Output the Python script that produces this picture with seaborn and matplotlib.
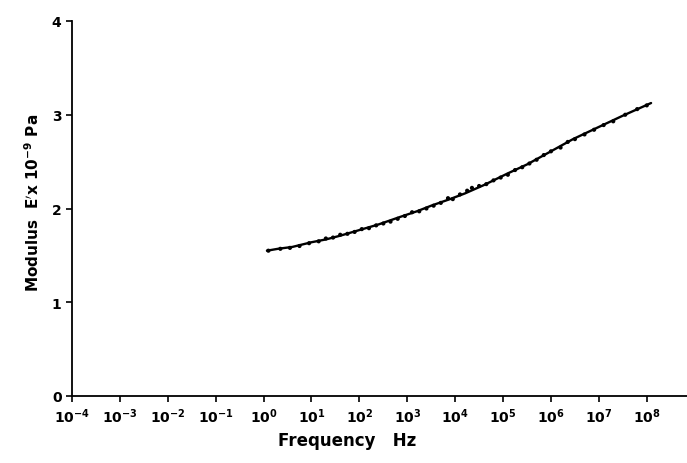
import numpy as np
import matplotlib
matplotlib.use("Agg")
import matplotlib.pyplot as plt
import seaborn as sns

# measured points (log10 of frequency in Hz, modulus in GPa)
point_logf = [0.1, 0.35, 0.55, 0.75, 0.95, 1.15, 1.3, 1.45, 1.6, 1.75, 1.9, 2.05, 2.2,
              2.35, 2.5, 2.65, 2.8, 2.95, 3.1, 3.25, 3.4, 3.55, 3.7, 3.85, 3.95, 4.1,
              4.25, 4.35, 4.5, 4.65, 4.8, 4.95, 5.1, 5.25, 5.4, 5.55, 5.7, 5.85, 6.0,
              6.2, 6.35, 6.5, 6.7, 6.9, 7.1, 7.3, 7.55, 7.8, 8.0]
point_mod = [1.55, 1.57, 1.58, 1.60, 1.63, 1.65, 1.68, 1.69, 1.72, 1.73, 1.75, 1.78, 1.79,
             1.82, 1.84, 1.86, 1.89, 1.92, 1.96, 1.97, 2.00, 2.03, 2.06, 2.11, 2.10, 2.15,
             2.19, 2.22, 2.24, 2.26, 2.30, 2.33, 2.36, 2.41, 2.44, 2.48, 2.52, 2.57, 2.61,
             2.65, 2.71, 2.74, 2.79, 2.84, 2.89, 2.93, 3.00, 3.06, 3.10]

# fitted curve
curve_logf = [0.07, 0.3, 0.6, 1.0, 1.3, 1.6, 2.0, 2.4, 2.85, 3.2, 3.5, 3.89, 4.2, 4.6,
              5.08, 5.5, 6.0, 6.46, 7.0, 7.5, 8.09]
curve_mod = [1.55, 1.57, 1.59, 1.64, 1.67, 1.71, 1.77, 1.83, 1.91, 1.97, 2.03, 2.10,
             2.16, 2.25, 2.37, 2.47, 2.61, 2.74, 2.87, 2.99, 3.125]

decades = list(range(-4, 9))

sns.set_style("ticks", {'axes.edgecolor': 'black', 'xtick.color': 'black',
                        'ytick.color': 'black', 'text.color': 'black'})
plt.rcParams['font.family'] = ['DejaVu Sans']
plt.rcParams['mathtext.fontset'] = 'dejavusans'

fig = plt.figure(figsize=(6.87, 4.64), dpi=100)
ax = fig.add_axes([72 / 687, 1 - 397 / 464, 1 - 72 / 687, (397 - 22) / 464])

sns.lineplot(x=10 ** np.array(curve_logf), y=curve_mod, color='black', linewidth=1.7, ax=ax)
sns.scatterplot(x=10 ** np.array(point_logf), y=point_mod, color='black', s=9,
                edgecolor='none', ax=ax)

ax.set_xscale('log')
ax.set_xlim(1e-4, 10 ** 8.84)
ax.set_ylim(0, 4)
ax.set_xticks([10.0 ** d for d in decades])
ax.set_xticklabels([r'$\mathbf{10^{%d}}$' % d for d in decades])
ax.minorticks_off()
ax.set_yticks([0, 1, 2, 3, 4])
ax.tick_params(axis='both', direction='out', length=4.5, width=1.2, labelsize=10, pad=3,
               labelcolor='black')
for lab in ax.get_xticklabels() + ax.get_yticklabels():
    lab.set_fontweight('bold')
sns.despine(ax=ax)
ax.spines['left'].set_linewidth(1.3)
ax.spines['bottom'].set_linewidth(1.3)

fig.text(347 / 687, 1 - 441 / 464, 'Frequency   Hz', ha='center', va='center',
         fontsize=12, fontweight='bold', color='black')
fig.text(33 / 687, 1 - 203 / 464, r"Modulus  E$\mathbf{'}$x 10$^{\mathbf{-9}}$ Pa",
         ha='center', va='center', rotation=90, fontsize=11, fontweight='bold',
         color='black')

fig.savefig('out.png', dpi=100)
